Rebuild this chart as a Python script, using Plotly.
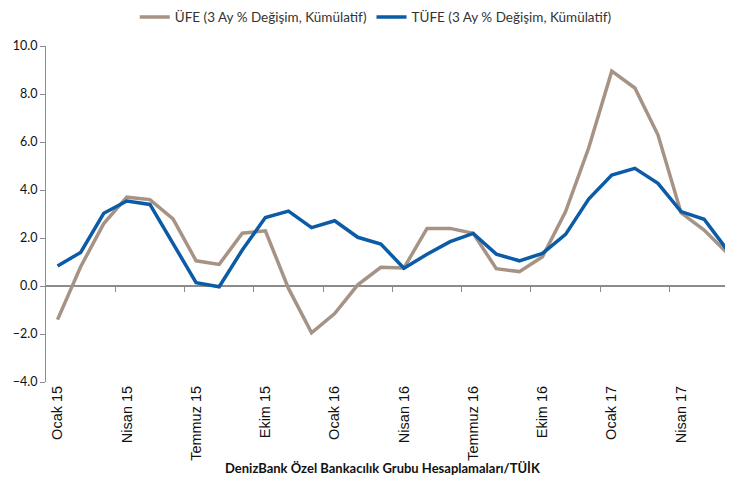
import plotly.graph_objects as go

# monthly, Ocak 2015 .. Haziran 2017
months = list(range(30))
tick_pos = [0, 3, 6, 9, 12, 15, 18, 21, 24, 27]
tick_labels = ["Ocak 15", "Nisan 15", "Temmuz 15", "Ekim 15", "Ocak 16",
               "Nisan 16", "Temmuz 16", "Ekim 16", "Ocak 17", "Nisan 17"]
boundary_ticks = [2.5, 5.5, 8.5, 11.5, 14.5, 17.5, 20.5, 23.5, 26.5]

ufe = [-1.4, 0.8, 2.6, 3.7, 3.6, 2.8, 1.05, 0.9, 2.2, 2.3,
       -0.1, -1.95, -1.15, 0.05, 0.78, 0.75, 2.4, 2.4, 2.2, 0.72,
       0.6, 1.22, 3.1, 5.75, 8.95, 8.25, 6.3, 3.05, 2.33, 1.38]
tufe = [0.83, 1.4, 3.03, 3.54, 3.4, 1.75, 0.14, -0.03, 1.5, 2.85,
        3.12, 2.43, 2.72, 2.03, 1.75, 0.74, 1.32, 1.85, 2.19, 1.33,
        1.05, 1.36, 2.15, 3.62, 4.62, 4.9, 4.28, 3.1, 2.78, 1.5]

BROWN = "#A69385"
BLUE = "#0B5BA6"
AXIS = "#8C8C8C"

fig = go.Figure()
fig.add_trace(go.Scatter(x=months, y=ufe, mode="lines",
                         name="ÜFE (3 Ay % Değişim, Kümülatif)",
                         line=dict(color=BROWN, width=3.5)))
fig.add_trace(go.Scatter(x=months, y=tufe, mode="lines",
                         name="TÜFE (3 Ay % Değişim, Kümülatif)",
                         line=dict(color=BLUE, width=3.5)))
# invisible helper so the tick axis at y=0 is drawn
fig.add_trace(go.Scatter(x=[0], y=[0], xaxis="x2", mode="markers",
                         marker=dict(opacity=0), showlegend=False, hoverinfo="skip"))

xr = [-0.5, 29.25]
# page body has an 8px margin, so the figure is a bit smaller than the window
fig.update_layout(
    width=725, height=475,
    paper_bgcolor="white", plot_bgcolor="white",
    margin=dict(l=38, r=0, t=38, b=101, autoexpand=False),
    font=dict(family="Lato, sans-serif", size=12, color="#222"),
    showlegend=True,
    legend=dict(orientation="h", x=0.48, xanchor="center", y=1.086, yanchor="middle",
                font=dict(family="Lato, sans-serif", size=13.5, color="#333"),
                itemwidth=30, tracegroupgap=0),
    xaxis=dict(range=xr, tickmode="array", tickvals=tick_pos, ticktext=tick_labels,
               tickangle=-90, showline=False, ticks="", showgrid=False, zeroline=False,
               tickfont=dict(family="Liberation Sans, Arial, sans-serif", size=14.5, color="#111")),
    xaxis2=dict(range=xr, overlaying="x", anchor="free", position=4 / 14,
                showline=False, showticklabels=False, ticks="outside", ticklen=5,
                tickcolor=AXIS, tickwidth=1, tickmode="array", tickvals=boundary_ticks,
                showgrid=False, zeroline=False),
    yaxis=dict(range=[-4, 10], dtick=2, tickformat=".1f", showline=True, linecolor=AXIS,
               linewidth=1, ticks="outside", ticklen=5, tickcolor=AXIS, showgrid=False,
               zeroline=True, zerolinecolor=AXIS, zerolinewidth=1.5,
               tickfont=dict(family="Lato, sans-serif", size=12.5, color="#111")),
    annotations=[dict(text="<b>DenizBank Özel Bankacılık Grubu Hesaplamaları/TÜİK</b>",
                      xref="paper", yref="paper", x=0.49, y=-0.256, yanchor="middle",
                      showarrow=False,
                      font=dict(family="Lato, sans-serif", size=13, color="#111"))],
)

fig.write_html("out.html")
